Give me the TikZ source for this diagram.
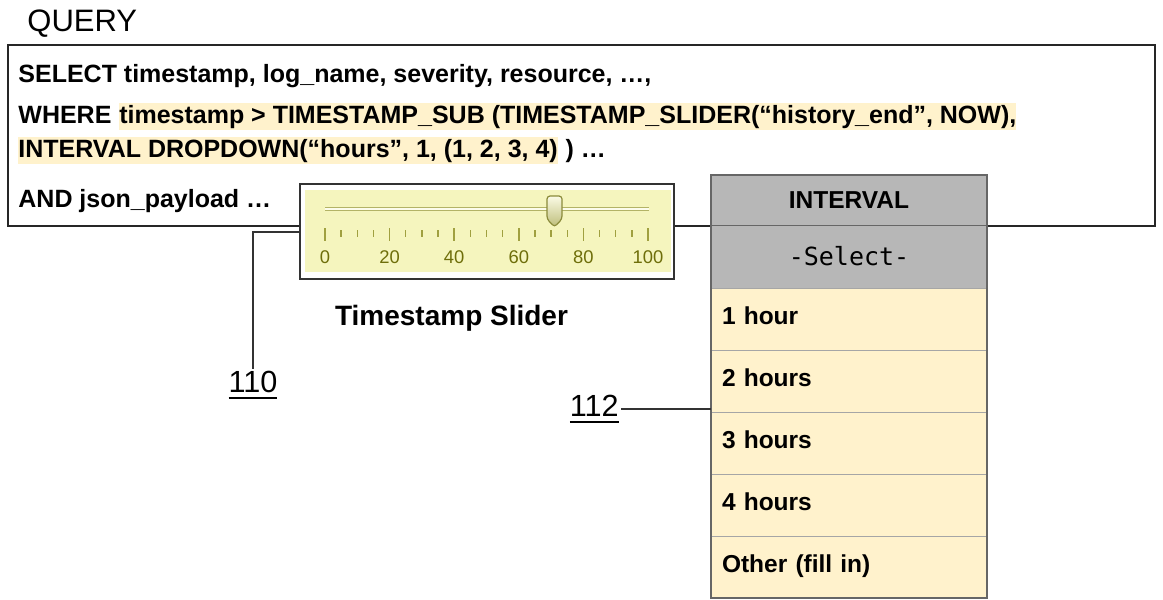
\documentclass[tikz,border=0pt]{standalone}
\usepackage{fontspec}
\setmainfont{Liberation Sans}
\newfontfamily\ddmono{DejaVu Sans Mono}
\usetikzlibrary{positioning}
\definecolor{HiliteClr}{HTML}{FFF2CC}
\definecolor{HeadClr}{HTML}{B7B7B7}
\definecolor{SliderClr}{HTML}{F5F5BE}
\definecolor{OliveClr}{HTML}{6E6E0A}
\definecolor{TickClr}{HTML}{A0A040}
\definecolor{RowLineClr}{HTML}{A6A6A6}

% underlined reference numeral
\newcommand{\ulnum}[1]{\setbox0\hbox{#1}\rlap{\usebox0}\rule[-3pt]{\wd0}{1pt}}

\tikzset{
  qline/.style={inner sep=0pt, anchor=base west, text height=10pt, text depth=3.5pt,
    font=\bfseries\fontsize{12.5}{15}\selectfont},
  hilite/.style={qline, fill=HiliteClr},
  ddhead/.style={draw=black!60, fill=HeadClr, minimum width=138pt, inner sep=0pt, outer sep=0pt},
  dditem/.style={draw=RowLineClr, fill=HiliteClr, text width=127pt, minimum height=31pt,
    align=left, inner xsep=5.5pt, inner ysep=0pt, outer sep=0pt, text height=7pt, text depth=2pt,
    font=\bfseries\fontsize{12.25}{14}\selectfont},
  refnum/.style={inner sep=1pt, font=\fontsize{15.3}{18}\selectfont},
  leader/.style={line width=1pt, black!80},
  sliderlbl/.style={inner sep=0pt, text=OliveClr, font=\fontsize{9.2}{10}\selectfont},
}

\begin{document}
\begin{tikzpicture}[x=0.5pt,y=-0.5pt]
\useasboundingbox (0,0) rectangle (1163,600);

% query box
\node[anchor=base west, inner sep=0pt, font=\fontsize{15.5}{18}\selectfont] (qtitle) at (27,31) {QUERY};
\node[draw=black!85, line width=1pt, minimum width=573.5pt, minimum height=90.5pt, inner sep=0pt, outer sep=0pt] (qbox) at (581.5,135.5) {};

\node[qline] (qselect) at (18,82) {SELECT timestamp, log\_name, severity, resource, …,};
\node[qline] (qwhere) at (18,123) {WHERE\kern0.28em};
\node[hilite, anchor=base west] (qtime) at (qwhere.base east) {timestamp > TIMESTAMP\_SUB (TIMESTAMP\_SLIDER(“history\_end”, NOW),};
\node[hilite] (qinterval) at (18,157) {INTERVAL DROPDOWN(“hours”, 1, (1, 2, 3, 4)};
\node[qline, anchor=base west] (qrest) at (qinterval.base east) {\kern0.28em) …};
\node[qline] (qand) at (18,207) {AND json\_payload …};

% slider
\node[draw=black!80, fill=white, line width=0.7pt, minimum width=187pt, minimum height=47.5pt, inner sep=0pt, outer sep=0pt] (slider) at (487,231.5) {};
\fill[SliderClr] (305,190) rectangle (671,272);
\draw[line width=1.8pt, TickClr!80] (325,209) -- (649,209);
\draw[line width=0.9pt, white!70!SliderClr] (325,209) -- (649,209);
\foreach \t in {0,...,20}
  \draw[TickClr, line width=0.7pt] ({325+16.15*\t},230) -- ({325+16.15*\t},237);
\foreach \t in {0,4,...,20}
  \draw[TickClr, line width=0.8pt] ({325+16.15*\t},228) -- ({325+16.15*\t},241);
\foreach \v [count=\k from 0] in {0,20,...,100}
  \node[sliderlbl] (lbl\v) at ({325+64.6*\k},257) {\v};
\draw[draw=OliveClr!80, line width=0.6pt, rounded corners=1.5pt, top color=white!60!SliderClr, bottom color=TickClr!70]
  (547,196) -- (562,196) -- (562,219) -- (554.5,227) -- (547,219) -- cycle;
\node[anchor=base, inner sep=0pt, font=\bfseries\fontsize{14}{17}\selectfont] (slidercap) at (451.5,325) {Timestamp Slider};

% interval dropdown
\node[ddhead, minimum height=25pt, font=\bfseries\fontsize{12.25}{14}\selectfont] (dhead) at (849,200) {INTERVAL};
\node[ddhead, minimum height=31.5pt, below=0pt of dhead, font=\ddmono\fontsize{12.5}{14}\selectfont] (dsel) {-Select-};
\node[dditem, below=0pt of dsel] (drow1) {1 hour};
\node[dditem, below=0pt of drow1] (drow2) {2 hours};
\node[dditem, below=0pt of drow2] (drow3) {3 hours};
\node[dditem, below=0pt of drow3] (drow4) {4 hours};
\node[dditem, below=0pt of drow4] (drow5) {Other (fill in)};
\draw[black!60, line width=0.6pt] (dhead.north west) rectangle (drow5.south east);

% reference numerals
\coordinate (k110) at (253,231.5);
\node[refnum, anchor=north] (n110) at (253,369) {\ulnum{110}};
\draw[leader] (slider.west) -- (k110) -- (n110.north);
\node[refnum, anchor=east] (n112) at (621,409) {\ulnum{112}};
\draw[leader] (n112.east) -- (n112.east -| drow2.west);

\end{tikzpicture}
\end{document}
